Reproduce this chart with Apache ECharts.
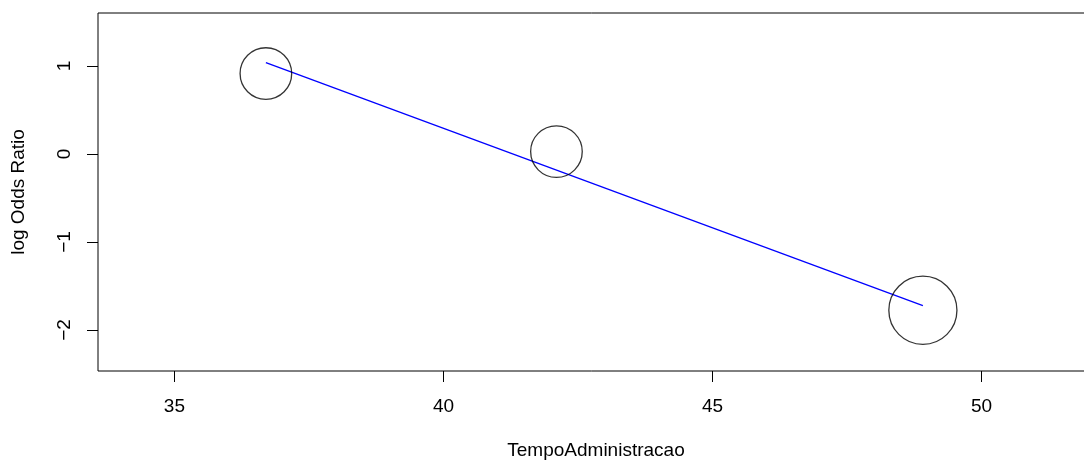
<!DOCTYPE html>
<html>
<head>
<meta charset="utf-8">
<script src="https://cdn.jsdelivr.net/npm/echarts@6/dist/echarts.min.js"></script>
<style>
  html, body { margin: 0; padding: 0; background: #fff; overflow: hidden; }
  #chart { width: 1084px; height: 463px; }
</style>
</head>
<body>
<div id="chart"></div>
<script>
// Study-level points: time of administration vs. log odds ratio
const tempo = [36.70, 42.10, 48.91];
const logOR = [0.914, 0.027, -1.776];
// Relative study weights (bubble radius scales with these)
const weights = [1.0, 1.0, 1.32];
// Fitted meta-regression line, evaluated at the smallest and largest x
const fitX = [36.70, 48.91];
const fitY = [1.039, -1.723];
// Tick values
const xTicks = [35, 40, 45, 50];
const yTicks = [-2, -1, 0, 1];

const baseRadius = 25.8;
const tickLen = 11;
const font = 'Liberation Sans, Arial, Helvetica, sans-serif';
const xMin = 33.58, xMax = 52.09;
const yMin = -2.466, yMax = 1.602;

const chart = echarts.init(document.getElementById('chart'), null, { renderer: 'canvas' });
chart.setOption({
  animation: false,
  backgroundColor: '#ffffff',
  grid: {
    left: 98, width: 996, top: 13, height: 358,
    outerBoundsMode: 'none', containLabel: false,
    show: true, borderColor: '#000', borderWidth: 1, backgroundColor: 'transparent'
  },
  xAxis: {
    type: 'value', min: xMin, max: xMax, position: 'bottom',
    name: 'TempoAdministracao', nameLocation: 'middle', nameGap: 70,
    nameTextStyle: { fontFamily: font, fontSize: 19, color: '#000' },
    axisLine: { show: false, onZero: false },
    splitLine: { show: false },
    axisTick: { show: true, length: tickLen, inside: false, customValues: xTicks, lineStyle: { color: '#000', width: 1 } },
    axisLabel: { show: true, customValues: xTicks, margin: 26, fontFamily: font, fontSize: 19, color: '#000' }
  },
  yAxis: {
    type: 'value', min: yMin, max: yMax, position: 'left',
    name: 'log Odds Ratio', nameLocation: 'middle', nameGap: 70, nameRotate: 90,
    nameTextStyle: { fontFamily: font, fontSize: 19, color: '#000' },
    axisLine: { show: false, onZero: false },
    splitLine: { show: false },
    axisTick: { show: false },
    axisLabel: {
      show: true, customValues: yTicks, rotate: 90, margin: 24,
      fontFamily: font, fontSize: 19, color: '#000',
      formatter: v => (v < 0 ? '\u2212' + Math.abs(v) : String(v))
    }
  },
  series: [
    {
      type: 'scatter',
      data: tempo.map((x, i) => [x, logOR[i], weights[i]]),
      symbol: 'circle',
      symbolSize: d => 2 * baseRadius * d[2],
      itemStyle: { color: 'rgba(0,0,0,0)', borderColor: '#000', borderWidth: 1.3 },
      emphasis: { disabled: true },
      z: 3
    },
    {
      type: 'line',
      data: fitX.map((x, i) => [x, fitY[i]]),
      showSymbol: false,
      lineStyle: { color: '#0000ff', width: 1.3 },
      emphasis: { disabled: true },
      z: 2
    }
  ]
});

// Outward tick marks on the left axis, positioned through the y scale
const yTickMarks = yTicks.map(v => {
  const p = chart.convertToPixel({ gridIndex: 0 }, [xMin, v]);
  const x = Math.round(p[0]);
  const y = Math.round(p[1]) + 0.5;
  return {
    type: 'line',
    z: 100,
    silent: true,
    shape: { x1: x - tickLen, y1: y, x2: x, y2: y },
    style: { stroke: '#000', lineWidth: 1 }
  };
});
chart.setOption({ graphic: { elements: yTickMarks } });
</script>
</body>
</html>
